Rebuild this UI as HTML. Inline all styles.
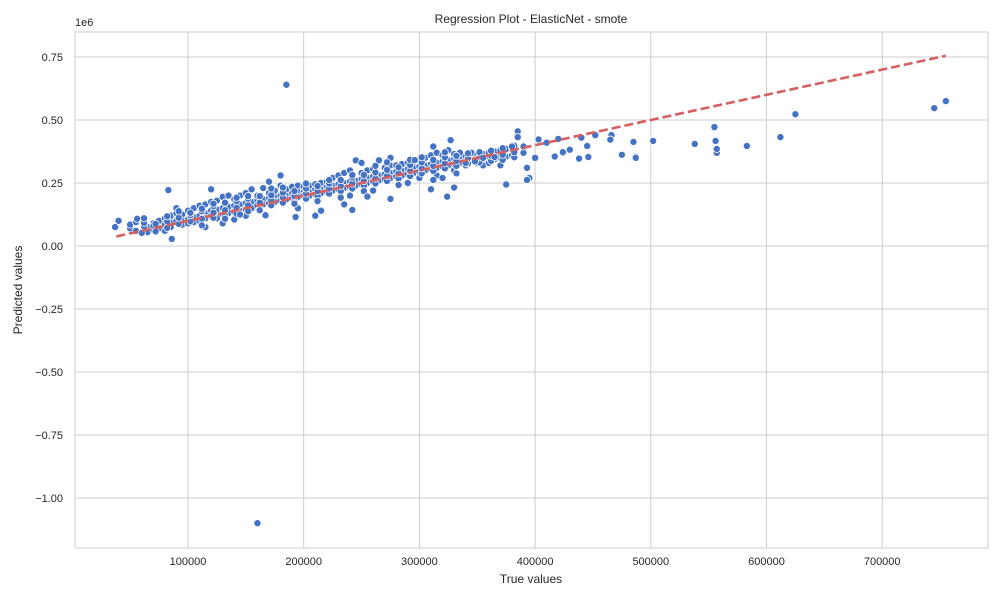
<!DOCTYPE html>
<html><head><meta charset="utf-8"><style>
body{margin:0;background:#fff;font-family:"Liberation Sans",sans-serif}
svg text{font-family:"Liberation Sans",sans-serif;fill:#262626}
</style></head><body>
<svg id="chart" width="1000" height="600"></svg>
<script>
const xTicks=[100000,200000,300000,400000,500000,600000,700000];
const yTicks=[0.75,0.5,0.25,0,-0.25,-0.5,-0.75,-1.0];
const yTickLabels=["0.75","0.50","0.25","0.00","−0.25","−0.50","−0.75","−1.00"];
const outlierTrue=[185,160,83,745,755,625,612,583,557,557,556,555,538,502,487,487,485,475,466,465,452,446,445,440,438,430,424,420,417,410,403,400,395,393,393,385,385,380,375,365,355,348,340,330,327,324,320,312,310,296,275,255,242,235,210,193,167,145,86,60,40,37,56,62];
const outlierPred=[640,-1100,222,547,575,523,432,397,370,385,417,472,405,417,355,350,413,362,440,422,440,353,397,430,347,382,372,425,355,410,423,350,270,262,310,455,432,395,244,353,350,336,330,232,420,196,270,395,225,341,187,196,143,165,120,115,122,125,28,52,100,75,108,110];
const clusterGroups=[[50,70,85],[55,60,95],[65,75,55],[70,90,65,80],[75,70,100],[80,85,110,60],[85,95,120,75],[90,100,130,150],[95,110,85,125],[100,105,140,90],[105,115,95,150],[110,120,160,100],[115,130,110,165,75],[120,140,120,175,225],[125,145,110,180],[130,150,125,195,90],[135,155,130,200],[140,160,135,185,105],[145,165,140,200],[150,170,145,210,120],[155,175,150,225],[160,180,160,200],[165,185,165,230],[170,190,170,210,255],[175,195,175,220],[180,200,180,240,280],[185,205,185,225],[190,210,190,235],[195,215,195,240,150],[200,215,200,235],[205,220,200,240],[210,225,205,245],[215,230,210,250,140],[220,235,215,255],[225,240,220,270],[230,245,225,280],[235,250,230,290],[240,255,235,300,200],[245,260,240,340],[250,265,245,290,330],[255,270,250,300],[260,275,255,305,220],[265,280,260,340],[270,285,265,310],[275,290,270,320,350],[280,295,275,320],[285,300,280,325],[290,305,285,330,250],[295,310,290,335],[300,315,295,340,270],[305,320,300,350],[310,325,305,360],[315,330,310,370,280],[320,335,315,360],[325,340,320,380],[330,345,325,365,300],[335,350,330,370],[340,355,335,320],[345,355,340,370],[350,360,345,330],[355,365,340,320],[360,370,345,330],[365,375,345],[370,380,350,320],[375,385,355],[380,390,360],[390,370,395]];
const clusterGroups2=[[62,78,92],[72,58,88],[82,72,98,118],[92,88,112,138],[102,98,122,132],[112,108,138,148,82],[122,112,132,158,168],[132,118,142,172,108],[142,128,152,178,192],[152,138,162,188,198],[162,152,172,198,142],[172,162,182,202,228],[182,172,192,212,232],[192,178,198,218,168],[202,188,208,228,248],[212,198,218,238,178],[222,208,228,248,262],[232,218,238,262,192],[242,228,248,272,282],[252,238,258,282,218],[262,248,268,292,318],[272,258,278,302,332],[282,268,288,312,242],[292,278,298,322,342],[302,288,308,332,352],[312,298,318,342,262],[322,308,328,352,372],[332,318,338,358,288],[342,328,348,368],[352,332,352,372],[362,338,358,378],[372,342,362,388],[382,352,372,398]];
const lineEnds=[38000,755000];

const svg=document.getElementById('chart');const NS='http://www.w3.org/2000/svg';
const L=75,R=988,T=32,B=548;
const xS=v=>72.3+v*0.001157;
const yS=v=>246-v*252;
function mk(tag,attrs,parent){const e=document.createElementNS(NS,tag);for(const k in attrs)e.setAttribute(k,attrs[k]);(parent||svg).appendChild(e);return e;}
const grid=mk('g',{});


xTicks.forEach(t=>{const x=xS(t);mk('line',{x1:x,x2:x,y1:T,y2:B,stroke:'#cccccc'},grid);
const tx=mk('text',{x:x,y:B+17,'text-anchor':'middle','font-size':11});tx.textContent=t;

});
yTicks.forEach((t,i)=>{const y=yS(t);mk('line',{x1:L,x2:R,y1:y,y2:y,stroke:'#cccccc'},grid);
const tx=mk('text',{x:L-12,y:y+4,'text-anchor':'end','font-size':11});tx.textContent=yTickLabels[i];

});
const frame=mk('rect',{x:L,y:T,width:R-L,height:B-T,fill:'none',stroke:'#cccccc'});


const tv=[],pv=[];
clusterGroups.concat(clusterGroups2).forEach(g=>{for(let i=1;i<g.length;i++){tv.push(g[0]);pv.push(g[i]);}});
outlierTrue.forEach((v,i)=>{tv.push(v);pv.push(outlierPred[i]);});
const pts=mk('g',{});


tv.forEach((v,i)=>{const c=mk('circle',{cx:xS(v*1000),cy:yS(pv[i]/1000),r:3.6,fill:'#4472c4',stroke:'#fff','stroke-width':0.8},pts);

});
const ln=mk('line',{x1:xS(lineEnds[0]),y1:yS(lineEnds[0]/1e6),x2:xS(lineEnds[1]),y2:yS(lineEnds[1]/1e6),stroke:'#d65f5f','stroke-width':2.6,'stroke-dasharray':'9,4'});


function txt(s,a,name){const e=mk('text',a);e.textContent=s;

}
txt('Regression Plot - ElasticNet - smote',{x:531,y:23,'text-anchor':'middle','font-size':12},'chart-title');
txt('True values',{x:531,y:583,'text-anchor':'middle','font-size':12},'x-axis-title');
txt('Predicted values',{x:22,y:290,'text-anchor':'middle','font-size':12,transform:'rotate(-90 22 290)'},'y-axis-title');
txt('1e6',{x:75,y:26,'font-size':11},'y-scale-label');
</script>
</body></html>
